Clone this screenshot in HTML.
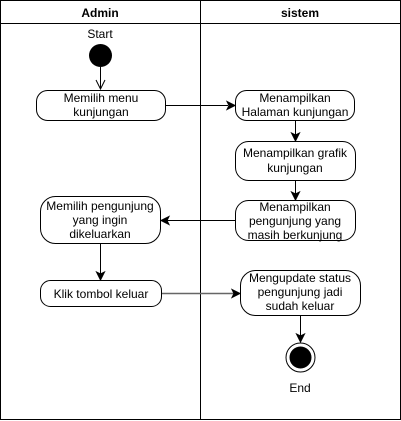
<!DOCTYPE html>
<html><head><style>
html,body{margin:0;padding:0;background:#fff;}
svg{display:block;}
text{font-family:"Liberation Sans",sans-serif;font-size:12px;fill:#000;}
</style></head><body>
<svg width="401" height="421" viewBox="0 0 401 421" xmlns="http://www.w3.org/2000/svg">
<rect x="0.5" y="0.5" width="400" height="419" fill="#fff" stroke="#000"/>
<line x1="0.5" y1="23.5" x2="400.5" y2="23.5" stroke="#000"/>
<line x1="200.5" y1="0" x2="200.5" y2="420" stroke="#000"/>
<text x="100" y="17" text-anchor="middle" font-weight="bold">Admin</text>
<text x="300" y="17" text-anchor="middle" font-weight="bold">sistem</text>

<text x="100" y="38" text-anchor="middle">Start</text>
<circle cx="100.5" cy="55.5" r="11.5" fill="#000"/>
<line x1="100.5" y1="67" x2="100.5" y2="89" stroke="#000"/>
<polyline points="96,80 100.5,89 105,80" fill="none" stroke="#000"/>

<g fill="#fff" stroke="#000">
<rect x="36.5" y="90.5" width="129" height="30" rx="11"/>
<rect x="235.5" y="90.5" width="119" height="30" rx="11"/>
<rect x="235.5" y="141.5" width="120" height="39" rx="13"/>
<rect x="235.5" y="200.5" width="120" height="40" rx="13"/>
<rect x="40.5" y="196.5" width="120" height="47" rx="15"/>
<rect x="40.5" y="280.5" width="121" height="26" rx="10"/>
<rect x="240.5" y="270.5" width="120" height="45" rx="15"/>
</g>

<text x="101" y="102" text-anchor="middle">Memilih menu</text>
<text x="101" y="116" text-anchor="middle">kunjungan</text>
<text x="295" y="102" text-anchor="middle">Menampilkan</text>
<text x="295" y="116" text-anchor="middle">Halaman kunjungan</text>
<text x="295" y="157" text-anchor="middle">Menampilkan grafik</text>
<text x="295" y="172" text-anchor="middle">kunjungan</text>
<text x="295" y="211" text-anchor="middle">Menampilkan</text>
<text x="295" y="225" text-anchor="middle">pengunjung yang</text>
<text x="295" y="239" text-anchor="middle">masih berkunjung</text>
<text x="100" y="210" text-anchor="middle">Memilih pengunjung</text>
<text x="100" y="224" text-anchor="middle">yang ingin</text>
<text x="100" y="238" text-anchor="middle">dikeluarkan</text>
<text x="101" y="298" text-anchor="middle">Klik tombol keluar</text>
<text x="300" y="282" text-anchor="middle">Mengupdate status</text>
<text x="300" y="296" text-anchor="middle">pengunjung jadi</text>
<text x="300" y="310" text-anchor="middle">sudah keluar</text>

<g stroke="#000" fill="#000">
<line x1="165.5" y1="105.5" x2="228" y2="105.5"/>
<polygon points="235,105.5 227,101.5 229,105.5 227,109.5"/>
<line x1="295.5" y1="121" x2="295.5" y2="135"/>
<polygon points="295.5,141 291.5,133 295.5,135 299.5,133"/>
<line x1="295.5" y1="181" x2="295.5" y2="194"/>
<polygon points="295.5,200 291.5,192 295.5,194 299.5,192"/>
<line x1="235" y1="220.5" x2="167" y2="220.5"/>
<polygon points="161,220.5 169,216.5 167,220.5 169,224.5"/>
<line x1="100.5" y1="244" x2="100.5" y2="274"/>
<polygon points="100.5,280 96.5,272 100.5,274 104.5,272"/>
<line x1="300.5" y1="316" x2="300.5" y2="336"/>
<polygon points="300.5,342 296.5,334 300.5,336 304.5,334"/>
</g>
<g stroke="#666" fill="#000">
<line x1="162" y1="293.5" x2="234" y2="293.5" stroke-width="1.5"/>
<polygon points="240,293.5 232,289.5 234,293.5 232,297.5" stroke="#000"/>
</g>

<circle cx="300.5" cy="357.5" r="14.5" fill="#fff" stroke="#000"/>
<circle cx="300.5" cy="357.5" r="11" fill="#000"/>
<text x="300" y="392" text-anchor="middle">End</text>
</svg>
</body></html>
